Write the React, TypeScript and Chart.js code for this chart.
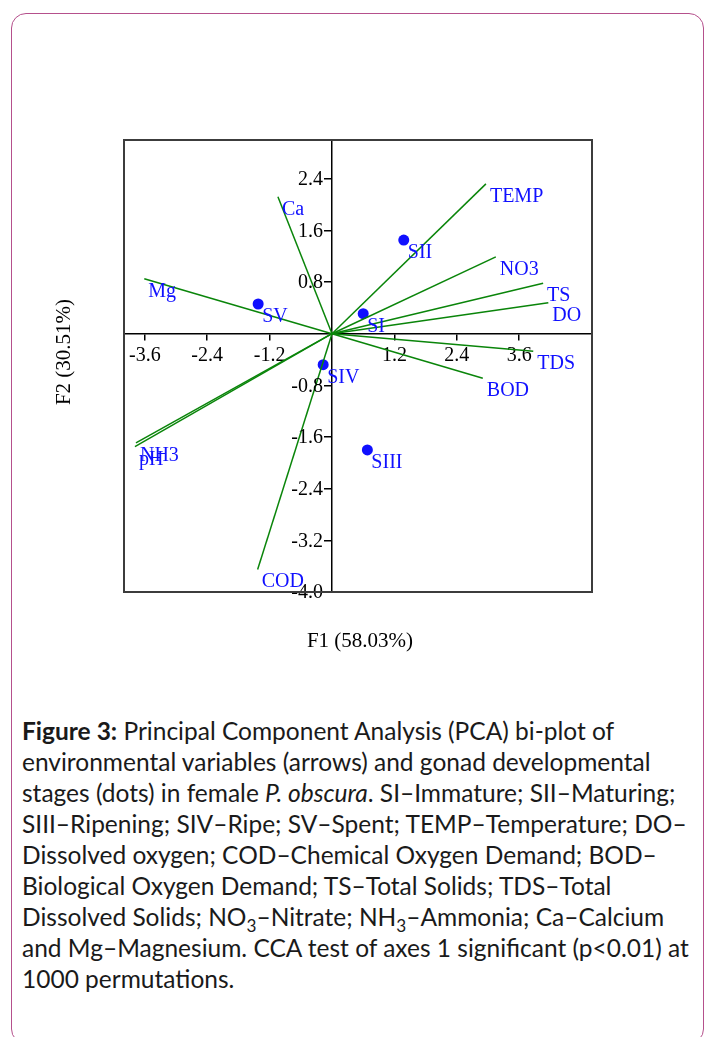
import React, { useEffect, useRef } from "react";
import { Chart, registerables } from "chart.js";

Chart.register(...registerables);

// Environmental variables (arrows): loadings on F1 / F2
const variableNames = ["TEMP", "Ca", "NO3", "TS", "DO", "TDS", "BOD", "Mg", "NH3", "pH", "COD"];
const variableF1 = [2.96, -1.04, 3.15, 4.06, 4.16, 3.87, 2.9, -3.61, -3.77, -3.79, -1.43];
const variableF2 = [2.32, 2.12, 1.19, 0.78, 0.48, -0.27, -0.69, 0.85, -1.69, -1.75, -3.65];

// Gonad developmental stages (dots)
const stageNames = ["SI", "SII", "SIII", "SIV", "SV"];
const stageF1 = [0.6, 1.38, 0.68, -0.17, -1.42];
const stageF2 = [0.31, 1.45, -1.8, -0.48, 0.46];

// Tick labels
const xTicks = [-3.6, -2.4, -1.2, 1.2, 2.4, 3.6];
const yTicks = [-4.0, -3.2, -2.4, -1.6, -0.8, 0.8, 1.6, 2.4];

const xTitle = "F1 (58.03%)";
const yTitle = "F2 (30.51%)";

const SERIF = "'Liberation Serif', 'DejaVu Serif', serif";
const GREEN = "#0a850a";
const BLUE = "#1010ff";
const TICK_SIZE = 20;

const fmt = (v: number) => Number(v).toFixed(1);

const labelPlugin = {
  id: "biplotLabels",
  afterDatasetsDraw(chart: any) {
    const { ctx, scales } = chart;
    const xs = scales.x;
    const ys = scales.y;
    ctx.save();
    // y tick labels, right-aligned just left of the tick marks
    ctx.fillStyle = "#000";
    ctx.font = `${TICK_SIZE}px ${SERIF}`;
    ctx.textAlign = "right";
    ctx.textBaseline = "middle";
    const axisX = xs.getPixelForValue(0);
    yTicks.forEach((v) => {
      ctx.fillText(fmt(v), axisX - 9, ys.getPixelForValue(v) + 1);
    });
    // point / arrow labels
    ctx.fillStyle = BLUE;
    ctx.font = `20px ${SERIF}`;
    ctx.textAlign = "left";
    ctx.textBaseline = "alphabetic";
    variableNames.forEach((name, i) => {
      const px = xs.getPixelForValue(variableF1[i]);
      const py = ys.getPixelForValue(variableF2[i]);
      ctx.fillText(name, px + 4, py + 18);
    });
    stageNames.forEach((name, i) => {
      const px = xs.getPixelForValue(stageF1[i]);
      const py = ys.getPixelForValue(stageF2[i]);
      ctx.fillText(name, px + 4, py + 18);
    });
    ctx.restore();
  },
  afterDraw(chart: any) {
    const { ctx, chartArea } = chart;
    ctx.save();
    ctx.strokeStyle = "#3c3c3c";
    ctx.lineWidth = 2;
    ctx.strokeRect(
      chartArea.left,
      chartArea.top,
      chartArea.right - chartArea.left,
      chartArea.bottom - chartArea.top
    );
    ctx.fillStyle = "#000";
    ctx.font = `21px ${SERIF}`;
    ctx.textAlign = "center";
    ctx.textBaseline = "middle";
    ctx.fillText(xTitle, (chartArea.left + chartArea.right) / 2 + 2, chartArea.bottom + 49);
    ctx.translate(chartArea.left - 60, (chartArea.top + chartArea.bottom) / 2 - 14);
    ctx.rotate(-Math.PI / 2);
    ctx.fillText(yTitle, 0, 0);
    ctx.restore();
  },
};

function BiplotChart() {
  const ref = useRef<HTMLCanvasElement | null>(null);
  useEffect(() => {
    if (!ref.current) return;
    const arrowSets = variableNames.map((name, i) => ({
      label: name,
      data: [
        { x: 0, y: 0 },
        { x: variableF1[i], y: variableF2[i] },
      ],
      showLine: true,
      borderColor: GREEN,
      borderWidth: 1.5,
      pointRadius: 0,
      pointHoverRadius: 0,
      fill: false,
    }));
    const stageSet = {
      label: "Stages",
      data: stageNames.map((_, i) => ({ x: stageF1[i], y: stageF2[i] })),
      showLine: false,
      pointRadius: 5.5,
      pointBackgroundColor: BLUE,
      pointBorderColor: BLUE,
      pointBorderWidth: 0,
    };
    const tickFont = { family: SERIF, size: TICK_SIZE };
    const chart = new Chart(ref.current, {
      type: "scatter",
      data: { datasets: [...arrowSets, stageSet] as any },
      options: {
        animation: false,
        responsive: false,
        devicePixelRatio: 1,
        layout: { padding: { left: 124, top: 140, right: 113, bottom: 88 } },
        plugins: { legend: { display: false }, tooltip: { enabled: false } },
        scales: {
          x: {
            type: "linear",
            min: -4,
            max: 5,
            position: { y: 0 } as any,
            afterBuildTicks: (s: any) => {
              s.ticks = xTicks.map((v) => ({ value: v }));
            },
            ticks: {
              font: tickFont,
              color: "#000",
              padding: 4,
              maxRotation: 0,
              autoSkip: false,
              callback: (v: any) => fmt(v),
            },
            grid: {
              display: true,
              drawOnChartArea: false,
              drawTicks: true,
              tickLength: 6,
              color: "#000",
              lineWidth: 1.5,
            },
            border: { display: true, color: "#000", width: 1.5 },
          },
          y: {
            type: "linear",
            min: -4,
            max: 3,
            position: { x: 0 } as any,
            afterBuildTicks: (s: any) => {
              s.ticks = yTicks.map((v) => ({ value: v }));
            },
            ticks: {
              display: false,
              font: tickFont,
              autoSkip: false,
            },
            grid: {
              display: true,
              drawOnChartArea: false,
              drawTicks: true,
              tickLength: 7,
              color: "#000",
              lineWidth: 1.5,
            },
            border: { display: true, color: "#000", width: 1.5 },
          },
        },
      },
      plugins: [labelPlugin],
    });
    return () => chart.destroy();
  }, []);
  return (
    <canvas
      ref={ref}
      width={705}
      height={680}
      style={{ position: "absolute", left: 0, top: 0, width: 705, height: 680 }}
    />
  );
}

const subStyle: React.CSSProperties = { fontSize: "0.7em", lineHeight: 0 };

const captionLines: React.ReactNode[] = [
  <>
    <b>Figure 3:</b> Principal Component Analysis (PCA) bi-plot of
  </>,
  <>environmental variables (arrows) and gonad developmental</>,
  <>
    stages (dots) in female <i>P. obscura</i>. SI–Immature; SII–Maturing;
  </>,
  <>SIII–Ripening; SIV–Ripe; SV–Spent; TEMP–Temperature; DO–</>,
  <>Dissolved oxygen; COD–Chemical Oxygen Demand; BOD–</>,
  <>Biological Oxygen Demand; TS–Total Solids; TDS–Total</>,
  <>
    Dissolved Solids; NO<sub style={subStyle}>3</sub>–Nitrate; NH<sub style={subStyle}>3</sub>–Ammonia; Ca–Calcium
  </>,
  <>and Mg–Magnesium. CCA test of axes 1 significant (p&lt;0.01) at</>,
  <>1000 permutations.</>,
];

export default function App() {
  return (
    <div
      style={{
        position: "fixed",
        left: 0,
        top: 0,
        width: 705,
        height: 1037,
        overflow: "hidden",
        background: "#fff",
      }}
    >
      <div
        style={{
          position: "absolute",
          left: 11,
          top: 13,
          width: 693,
          height: 1031,
          border: "1.5px solid #b5508c",
          borderRadius: 15,
          boxSizing: "border-box",
        }}
      />
      <BiplotChart />
      <div
        style={{
          position: "absolute",
          left: 22,
          top: 715,
          fontFamily: "Lato, 'Open Sans', sans-serif",
          fontSize: 24.5,
          lineHeight: "31px",
          color: "#1a1a1a",
        }}
      >
        {captionLines.map((line, i) => (
          <div key={i} style={{ whiteSpace: "nowrap" }}>
            {line}
          </div>
        ))}
      </div>
    </div>
  );
}
